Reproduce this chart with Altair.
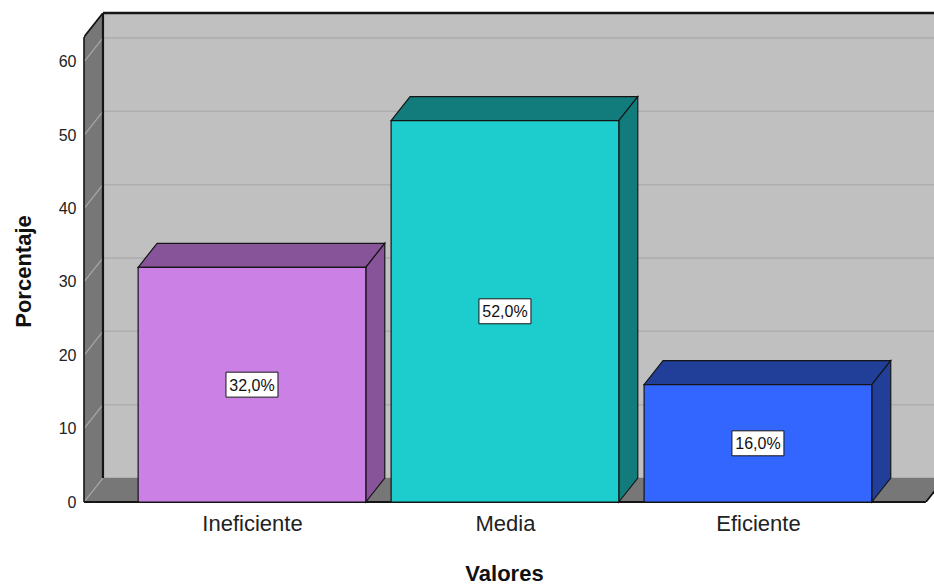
import json

import altair as alt
import pandas as pd

# ---- data -------------------------------------------------------------
categories = ["Ineficiente", "Media", "Eficiente"]
percentages = [32.0, 52.0, 16.0]
front_colors = ["#CB80E5", "#1DCDCD", "#3366FF"]
shade_colors = ["#87549A", "#127C7C", "#213E99"]
y_ticks = [0, 10, 20, 30, 40, 50, 60]

# ---- pseudo-3D geometry (in axis units) -------------------------------
HALF = 0.45       # half bar width, category units
DX = 0.075        # depth shift along x
DY = 3.27         # depth shift along y (percent units)
X0 = 0.336        # front-left corner of the floor
X_END = 3.664     # front-right corner of the floor
X_MAX = 3.696     # right edge of the view
WALL_TOP = 63.4
Y_MAX = WALL_TOP + DY

FONT = "Liberation Sans"
EDGE = "#151515"

x_scale = alt.Scale(domain=[X0, X_MAX], nice=False, zero=False)
y_scale = alt.Scale(domain=[0, Y_MAX], nice=False, zero=False)

x_axis = alt.Axis(
    values=[1, 2, 3],
    labelExpr=f"{json.dumps(categories)}[datum.value - 1]",
    labelFont=FONT, labelFontSize=22, labelColor="#222222", labelPadding=11,
    domain=False, ticks=False, grid=False,
    titleFont=FONT, titleFontSize=22, titleFontWeight="bold", titleColor="#111111",
    titleX=420, titleY=78, titleBaseline="alphabetic", titleAlign="center",
)
y_axis = alt.Axis(
    values=y_ticks, format="d",
    labelFont=FONT, labelFontSize=16, labelColor="#222222", labelPadding=8,
    domain=False, ticks=False, grid=False,
    titleFont=FONT, titleFontSize=22, titleFontWeight="bold", titleColor="#111111",
    titleAngle=270, titleX=-54, titleY=258, titleBaseline="alphabetic", titleAlign="center",
)


def X(field="x"):
    return alt.X(f"{field}:Q", scale=x_scale, axis=x_axis, title="Valores")


def Y(field="y"):
    return alt.Y(f"{field}:Q", scale=y_scale, axis=y_axis, title="Porcentaje")


# ---- frame: back wall, side wall, floor -------------------------------
back_wall = pd.DataFrame([{"x": X0 + DX, "x2": X_MAX, "y": DY, "y2": WALL_TOP + DY}])

walls = pd.DataFrame(
    # left side wall
    [{"id": "side", "x": X0, "lo": 0, "hi": WALL_TOP},
     {"id": "side", "x": X0 + DX, "lo": DY, "hi": WALL_TOP + DY}]
    # floor
    + [{"id": "floor", "x": X0, "lo": 0, "hi": 0},
       {"id": "floor", "x": X0 + DX, "lo": 0, "hi": DY},
       {"id": "floor", "x": X_END, "lo": 0, "hi": DY},
       {"id": "floor", "x": X_END + DX, "lo": DY, "hi": DY}]
)

grid_back = pd.DataFrame({"y": [v + DY for v in y_ticks], "x": X0 + DX, "x2": X_MAX})
grid_side = pd.DataFrame(
    [{"v": v, "x": X0, "y": v} for v in y_ticks]
    + [{"v": v, "x": X0 + DX, "y": v + DY} for v in y_ticks]
)

edge_h = pd.DataFrame([
    {"x": X0 + DX, "x2": X_MAX, "y": WALL_TOP + DY, "w": 2.6},   # top of back wall
    {"x": X0, "x2": X_END, "y": 0, "w": 2.2},                     # front edge of floor
])
edge_v = pd.DataFrame([
    {"x": X0 + DX, "y": DY, "y2": WALL_TOP + DY, "w": 2.2},      # back-left corner
    {"x": X0, "y": 0, "y2": WALL_TOP, "w": 1.6},                  # front-left corner
])
edge_d = pd.DataFrame([
    {"id": "top", "x": X0, "y": WALL_TOP},
    {"id": "top", "x": X0 + DX, "y": WALL_TOP + DY},
    {"id": "right", "x": X_END, "y": 0},
    {"id": "right", "x": X_END + DX, "y": DY},
])

# ---- bars --------------------------------------------------------------
rows, faces = [], []
for i, (cat, v) in enumerate(zip(categories, percentages)):
    c = i + 1
    xl, xr = c - HALF, c + HALF
    rows.append({
        "cat": cat, "c": c, "x": xl, "x2": xr, "y": 0, "y2": v,
        "mid": v / 2, "fill": front_colors[i],
        "label": f"{v:.1f}".replace(".", ",") + "%",
    })
    shade = shade_colors[i]
    # top face
    faces += [
        {"id": f"top{i}", "x": xl, "lo": v, "hi": v, "fill": shade},
        {"id": f"top{i}", "x": xl + DX, "lo": v, "hi": v + DY, "fill": shade},
        {"id": f"top{i}", "x": xr, "lo": v, "hi": v + DY, "fill": shade},
        {"id": f"top{i}", "x": xr + DX, "lo": v + DY, "hi": v + DY, "fill": shade},
    ]
    # right side face
    faces += [
        {"id": f"side{i}", "x": xr, "lo": 0, "hi": v, "fill": shade},
        {"id": f"side{i}", "x": xr + DX, "lo": DY, "hi": v + DY, "fill": shade},
    ]
bars = pd.DataFrame(rows)
faces = pd.DataFrame(faces)

# ---- layers ------------------------------------------------------------
wall_rect = alt.Chart(back_wall).mark_rect(fill="#C0C0C0").encode(
    x=X(), x2="x2:Q", y=Y(), y2="y2:Q")

wall_areas = alt.Chart(walls).mark_area(fill="#777777", clip=True).encode(
    x=X(), y=Y("lo"), y2="hi:Q", detail="id:N")

grid_b = alt.Chart(grid_back).mark_rule(color="#ADADAD", strokeWidth=1.5, clip=True).encode(
    x=X(), x2="x2:Q", y=Y())

grid_s = alt.Chart(grid_side).mark_line(color="#A8A8A8", strokeWidth=1.2).encode(
    x=X(), y=Y(), detail="v:N")

edges_h = alt.Chart(edge_h).mark_rule(color=EDGE).encode(
    x=X(), x2="x2:Q", y=Y(), strokeWidth=alt.StrokeWidth("w:Q", scale=None))

edges_v = alt.Chart(edge_v).mark_rule(color=EDGE).encode(
    x=X(), y=Y(), y2="y2:Q", strokeWidth=alt.StrokeWidth("w:Q", scale=None))

edges_d = alt.Chart(edge_d).mark_line(color=EDGE, strokeWidth=1.8, clip=True).encode(
    x=X(), y=Y(), detail="id:N")

bar_faces = alt.Chart(faces).mark_area(
    stroke=EDGE, strokeWidth=1.2, strokeJoin="miter", opacity=1
).encode(
    x=X(), y=Y("lo"), y2="hi:Q", detail="id:N",
    fill=alt.Fill("fill:N", scale=None),
)

bar_fronts = alt.Chart(bars).mark_rect(stroke=EDGE, strokeWidth=1.2).encode(
    x=X(), x2="x2:Q", y=Y(), y2="y2:Q",
    fill=alt.Fill("fill:N", scale=None),
)

label_boxes = alt.Chart(bars).mark_point(
    shape="M-1,-0.48L1,-0.48L1,0.48L-1,0.48Z", size=2704,
    filled=True, fill="white", stroke=EDGE, strokeWidth=1, opacity=1,
).encode(x=X("c"), y=Y("mid"))

label_text = alt.Chart(bars).mark_text(
    font=FONT, fontSize=16, color="#111111", baseline="middle", align="center", dy=1,
).encode(x=X("c"), y=Y("mid"), text="label:N")

chart = alt.layer(
    wall_rect, grid_b, wall_areas, grid_s, edges_v, edges_h, edges_d,
    bar_faces, bar_fronts, label_boxes, label_text,
).properties(
    width=850, height=489,
    autosize=alt.AutoSizeParams(type="none"),
    padding={"left": 84, "top": 13, "right": 0, "bottom": 82},
    background="white",
).configure_view(stroke=None)

chart.save("out.html", embed_options={"renderer": "svg", "actions": False})
